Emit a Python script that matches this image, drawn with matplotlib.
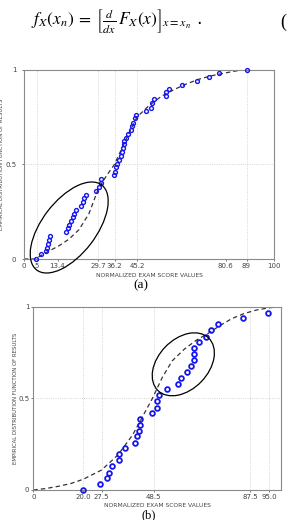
import matplotlib
matplotlib.use('Agg')
import matplotlib.pyplot as plt
from matplotlib.patches import Ellipse

plt.rcParams['mathtext.fontset'] = 'stix'
plt.rcParams['font.family'] = ['DejaVu Sans']

# ---------------- Panel (a) data ----------------
a_x = [4.7, 6.7, 8.8, 9.05, 9.5, 9.9, 10.5, 16.9, 17.6, 18.0, 18.6, 19.4, 20.0, 20.6,
       22.8, 23.4, 23.8, 24.9, 28.9, 29.8, 30.6, 30.8, 36.0, 36.4, 36.7, 37.3, 37.9,
       38.7, 39.3, 39.7, 40.0, 40.0, 40.8, 41.7, 42.6, 43.0, 43.7, 44.2, 44.6, 48.7,
       50.7, 51.1, 51.9, 56.6, 56.7, 57.9, 63.0, 69.0, 73.8, 78.0, 89.0]
a_y = [0.0, 0.025, 0.042, 0.06, 0.08, 0.10, 0.12, 0.144, 0.162, 0.18, 0.20, 0.22, 0.24, 0.26,
       0.28, 0.30, 0.32, 0.34, 0.36, 0.38, 0.40, 0.42, 0.444, 0.46, 0.484, 0.50, 0.525,
       0.545, 0.563, 0.584, 0.606, 0.623, 0.64, 0.66, 0.68, 0.70, 0.72, 0.743, 0.76, 0.78,
       0.80, 0.826, 0.845, 0.86, 0.88, 0.90, 0.92, 0.94, 0.96, 0.98, 1.0]
a_fit_x = [0, 4.5, 7, 10, 14, 18, 22, 26, 29.7, 33, 36.2, 39, 42, 45.2, 50, 55, 60, 65,
           70, 75, 80.6, 85, 89, 100]
a_fit_y = [0, 0, 0.02, 0.042, 0.07, 0.105, 0.155, 0.24, 0.37, 0.44, 0.50, 0.58, 0.665,
           0.75, 0.81, 0.86, 0.895, 0.925, 0.95, 0.968, 0.983, 0.994, 1.0, 1.0]
a_xticks = [0, 5, 13.4, 29.7, 36.2, 45.2, 80.6, 89, 100]
a_xticklabels = ['0', '5', '13.4', '29.7', '36.2', '45.2', '80.6', '89', '100']
a_grid_x = [5, 29.7, 36.2, 45.2, 89]

# ---------------- Panel (b) data ----------------
b_x = [19.9, 26.9, 29.8, 30.6, 31.8, 34.5, 34.5, 36.8, 40.8, 41.6, 42.7, 42.8, 42.8,
       48.0, 49.7, 49.7, 50.8, 53.7, 58.4, 59.5, 61.8, 63.7, 64.8, 64.8, 64.8, 66.8,
       69.7, 71.6, 74.6, 84.7, 94.5]
b_y = [0.0, 0.035, 0.065, 0.095, 0.13, 0.164, 0.196, 0.227, 0.258, 0.295, 0.324, 0.353,
       0.39, 0.418, 0.45, 0.484, 0.518, 0.55, 0.58, 0.613, 0.645, 0.676, 0.707, 0.742,
       0.773, 0.805, 0.836, 0.873, 0.905, 0.936, 0.967]
b_fit_x = [0, 5, 10, 15, 20, 27.5, 34, 40, 44, 48, 52, 56, 61, 66, 70.5, 75, 80, 85,
           90, 95, 100]
b_fit_y = [0.0, 0.008, 0.02, 0.035, 0.058, 0.109, 0.19, 0.30, 0.40, 0.50, 0.615, 0.705,
           0.77, 0.82, 0.855, 0.895, 0.935, 0.963, 0.982, 0.994, 1.0]
b_xticks = [0, 20, 27.5, 48.5, 87.5, 95]
b_xticklabels = ['0', '20.0', '27.5', '48.5', '87.5', '95.0']
b_grid_x = [20, 27.5, 48.5, 87.5, 95]

yticks = [0, 0.5, 1]
yticklabels = ['0', '0.5', '1']
xlabel = 'NORMALIZED EXAM SCORE VALUES'
ylabel = 'EMPIRICAL DISTRIBUTION FUNCTION OF RESULTS'

W, H = 288, 520
fig = plt.figure(figsize=(W / 100, H / 100), dpi=100)
fig.patch.set_facecolor('white')

# equation at top
fig.text(31 / W, 1 - 21 / H,
         r'$f_X(x_n)\;=\;\left[\frac{d}{dx}\,F_X(x)\right]_{x=x_n}$ .',
         fontsize=12.5, ha='left', va='center', color='black')
fig.text(280 / W, 1 - 22 / H, '(', fontsize=13, family='Liberation Serif',
         ha='left', va='center')


def style_axes(ax, xticks, xticklabels, grid_x, tick_pad_y, ylab_x, xlab_pad):
    ax.set_xlim(0, 100)
    ax.set_ylim(0, 1)
    ax.set_xticks(xticks)
    ax.set_xticklabels(xticklabels)
    ax.set_yticks(yticks)
    ax.set_yticklabels(yticklabels)
    ax.tick_params(axis='both', labelsize=5, colors='#444444', length=1.5, width=0.5)
    ax.tick_params(axis='y', pad=tick_pad_y)
    ax.tick_params(axis='x', pad=1.5)
    for s in ax.spines.values():
        s.set_color('#8a8a8a')
        s.set_linewidth(0.8)
    for gx in grid_x:
        ax.axvline(gx, color='#c8c8c8', lw=0.6, ls=':', zorder=0)
    ax.axhline(0.5, color='#c8c8c8', lw=0.6, ls=':', zorder=0)
    ax.set_xlabel(xlabel, fontsize=4.3, color='#444444', labelpad=xlab_pad)
    ax.set_ylabel(ylabel, fontsize=3.9, color='#444444')
    ax.yaxis.set_label_coords(ylab_x, 0.5)


# ---------------- Panel (a) ----------------
axa = fig.add_axes([24 / W, 261 / H, 250 / W, 189.3 / H])
style_axes(axa, a_xticks, a_xticklabels, a_grid_x, 4, (4.5 - 24) / 250, 3)
axa.plot(a_fit_x, a_fit_y, color='#333333', lw=0.9, ls=(0, (3.5, 2.5)), zorder=2)
axa.plot(a_x, a_y, ls='none', marker='o', ms=2.8, mfc='none', mec='#1515f0', mew=1.0,
         zorder=3, clip_on=False)
fig.text(140.7 / W, 1 - 285 / H, '(a)', fontsize=9.5, family='Liberation Serif',
         ha='center', va='center')

# ---------------- Panel (b) ----------------
axb = fig.add_axes([33.4 / W, 30 / H, 248 / W, 183.3 / H])
style_axes(axb, b_xticks, b_xticklabels, b_grid_x, 1.5, (18 - 33.4) / 248, 2.0)
axb.plot(b_fit_x, b_fit_y, color='#333333', lw=0.9, ls=(0, (3.5, 2.5)), zorder=2)
axb.plot(b_x, b_y, ls='none', marker='o', ms=3.4, mfc='none', mec='#1515f0', mew=1.3,
         zorder=3, clip_on=False)
fig.text(149 / W, 1 - 515 / H, '(b)', fontsize=9, family='Liberation Serif',
         ha='center', va='center')

# ellipses highlighting regions (positions in inches)
ell_a = Ellipse((0.692, (H - 227.5) / 100), 1.07, 0.54, angle=52.5,
                transform=fig.dpi_scale_trans, fill=False, ec='black', lw=0.9)
ell_b = Ellipse((1.833, (H - 364.3) / 100), 0.73, 0.50, angle=46,
                transform=fig.dpi_scale_trans, fill=False, ec='black', lw=0.9)
fig.add_artist(ell_a)
fig.add_artist(ell_b)

fig.savefig('out.png', dpi=100)
